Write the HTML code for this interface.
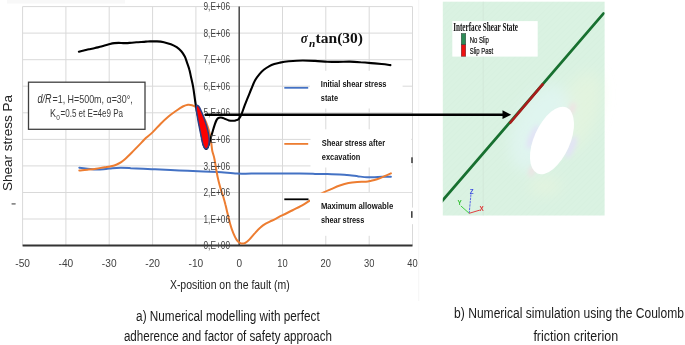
<!DOCTYPE html>
<html><head><meta charset="utf-8"><style>
html,body{margin:0;padding:0;background:#fff;width:685px;height:345px;overflow:hidden}
svg{display:block;filter:blur(0.35px)}
text{font-family:"Liberation Sans",sans-serif}
.yl{font-size:10.5px;fill:#404040}
.xl{font-size:11px;fill:#404040}
.lg{font-size:9px;font-weight:bold;fill:#141414}
.sg{font-family:"Liberation Serif",serif;font-size:14px;font-weight:bold;fill:#111}
.sg2{font-family:"Liberation Serif",serif;font-size:9.5px;font-weight:bold;fill:#111}
.dr{font-size:12.2px;fill:#333}
.dr2{font-size:10.2px;fill:#3a3a3a}
.dr3{font-size:6.5px;fill:#404040}
.yt{font-size:13px;fill:#222}
.xt{font-size:12px;fill:#222}
.cp{font-size:14px;fill:#1a1a1a}
.il{font-family:"Liberation Serif",serif;font-size:11.5px;font-weight:bold;fill:#111}
.il2{font-size:9.2px;fill:#111;stroke:#111;stroke-width:0.2px}
.tr{font-size:7.2px;font-weight:bold}
</style></head><body>
<svg width="685" height="345" viewBox="0 0 685 345">
<defs><clipPath id="pclip"><rect x="442.8" y="1.7" width="161.8" height="213.8"/></clipPath><pattern id="hatch" width="4" height="4" patternUnits="userSpaceOnUse" patternTransform="rotate(-45)"><line x1="0" y1="0" x2="4" y2="0" stroke="#c8e0cc" stroke-width="0.6" opacity="0.35"/></pattern><filter id="blur" x="-50%" y="-50%" width="200%" height="200%"><feGaussianBlur stdDeviation="2.5"/></filter><filter id="blur2" x="-50%" y="-50%" width="200%" height="200%"><feGaussianBlur stdDeviation="7"/></filter></defs>
<rect x="0" y="0" width="685" height="345" fill="#fff"/>
<rect x="7" y="0" width="118" height="3.5" fill="#f8f8f8"/>
<line x1="418.7" y1="0" x2="418.7" y2="301" stroke="#f3f3f3" stroke-width="0.8"/>
<line x1="22.6" y1="6.6" x2="22.6" y2="245.6" stroke="#d9d9d9" stroke-width="1"/>
<line x1="65.9" y1="6.6" x2="65.9" y2="245.6" stroke="#d9d9d9" stroke-width="1"/>
<line x1="109.2" y1="6.6" x2="109.2" y2="245.6" stroke="#d9d9d9" stroke-width="1"/>
<line x1="152.6" y1="6.6" x2="152.6" y2="245.6" stroke="#d9d9d9" stroke-width="1"/>
<line x1="195.9" y1="6.6" x2="195.9" y2="245.6" stroke="#d9d9d9" stroke-width="1"/>
<line x1="239.2" y1="6.6" x2="239.2" y2="245.6" stroke="#d9d9d9" stroke-width="1"/>
<line x1="282.5" y1="6.6" x2="282.5" y2="245.6" stroke="#d9d9d9" stroke-width="1"/>
<line x1="325.8" y1="6.6" x2="325.8" y2="245.6" stroke="#d9d9d9" stroke-width="1"/>
<line x1="369.2" y1="6.6" x2="369.2" y2="245.6" stroke="#d9d9d9" stroke-width="1"/>
<line x1="412.5" y1="6.6" x2="412.5" y2="245.6" stroke="#d9d9d9" stroke-width="1"/>
<line x1="22.6" y1="219.0" x2="412.5" y2="219.0" stroke="#d9d9d9" stroke-width="1"/>
<line x1="22.6" y1="192.5" x2="412.5" y2="192.5" stroke="#d9d9d9" stroke-width="1"/>
<line x1="22.6" y1="165.9" x2="412.5" y2="165.9" stroke="#d9d9d9" stroke-width="1"/>
<line x1="22.6" y1="139.4" x2="412.5" y2="139.4" stroke="#d9d9d9" stroke-width="1"/>
<line x1="22.6" y1="112.8" x2="412.5" y2="112.8" stroke="#d9d9d9" stroke-width="1"/>
<line x1="22.6" y1="86.2" x2="412.5" y2="86.2" stroke="#d9d9d9" stroke-width="1"/>
<line x1="22.6" y1="59.7" x2="412.5" y2="59.7" stroke="#d9d9d9" stroke-width="1"/>
<line x1="22.6" y1="33.1" x2="412.5" y2="33.1" stroke="#d9d9d9" stroke-width="1"/>
<line x1="22.6" y1="6.6" x2="412.5" y2="6.6" stroke="#d9d9d9" stroke-width="1"/>
<line x1="239.2" y1="6.6" x2="239.2" y2="245.6" stroke="#404040" stroke-width="1.4"/>
<line x1="22.6" y1="245.6" x2="412.5" y2="245.6" stroke="#333" stroke-width="2"/>
<text x="22.6" y="266.9" text-anchor="middle" class="xl" textLength="14.7" lengthAdjust="spacingAndGlyphs">-50</text>
<text x="65.9" y="266.9" text-anchor="middle" class="xl" textLength="14.7" lengthAdjust="spacingAndGlyphs">-40</text>
<text x="109.2" y="266.9" text-anchor="middle" class="xl" textLength="14.7" lengthAdjust="spacingAndGlyphs">-30</text>
<text x="152.6" y="266.9" text-anchor="middle" class="xl" textLength="14.7" lengthAdjust="spacingAndGlyphs">-20</text>
<text x="195.9" y="266.9" text-anchor="middle" class="xl" textLength="14.7" lengthAdjust="spacingAndGlyphs">-10</text>
<text x="239.2" y="266.9" text-anchor="middle" class="xl" textLength="5.6" lengthAdjust="spacingAndGlyphs">0</text>
<text x="282.5" y="266.9" text-anchor="middle" class="xl" textLength="10.4" lengthAdjust="spacingAndGlyphs">10</text>
<text x="325.8" y="266.9" text-anchor="middle" class="xl" textLength="10.4" lengthAdjust="spacingAndGlyphs">20</text>
<text x="369.2" y="266.9" text-anchor="middle" class="xl" textLength="10.4" lengthAdjust="spacingAndGlyphs">30</text>
<text x="412.5" y="266.9" text-anchor="middle" class="xl" textLength="10.4" lengthAdjust="spacingAndGlyphs">40</text>
<path d="M79.3,167.7 C80.7,167.9 84.4,168.4 87.4,168.7 C90.4,169.0 94.2,169.6 97.3,169.6 C100.4,169.6 103.5,169.1 106.0,168.9 C108.5,168.7 109.7,168.4 112.2,168.2 C114.7,168.0 117.8,167.8 120.9,167.8 C124.0,167.8 127.1,168.0 130.8,168.2 C134.5,168.3 139.2,168.5 143.2,168.7 C147.2,168.9 149.0,168.9 155.0,169.2 C161.0,169.5 171.1,170.0 179.1,170.4 C187.1,170.8 196.8,171.3 203.2,171.6 C209.6,171.9 212.1,171.7 217.7,172.0 C223.3,172.3 231.3,173.3 236.9,173.6 C242.5,173.9 245.0,173.6 251.4,173.6 C257.8,173.6 267.5,173.4 275.5,173.4 C283.5,173.4 293.0,173.5 299.6,173.6 C306.2,173.7 310.4,173.8 315.0,173.9 C319.6,174.0 323.3,174.0 327.4,174.1 C331.5,174.2 336.1,174.2 339.8,174.4 C343.5,174.6 346.6,174.9 349.7,175.2 C352.8,175.5 355.5,176.1 358.4,176.4 C361.3,176.7 364.4,177.1 367.1,177.2 C369.8,177.3 372.1,177.3 374.6,177.2 C377.1,177.1 379.3,176.9 382.0,176.8 C384.7,176.7 389.4,176.8 390.9,176.8" fill="none" stroke="#4472c4" stroke-width="2" stroke-linecap="round"/>
<path d="M79.3,170.5 C80.7,170.4 84.6,170.0 87.4,169.7 C90.2,169.4 93.2,169.1 96.1,168.7 C99.0,168.3 102.1,167.6 104.8,167.2 C107.5,166.8 110.1,166.5 112.2,166.0 C114.3,165.5 115.7,164.9 117.2,164.3 C118.7,163.7 120.0,163.0 121.2,162.2 C122.4,161.4 123.5,160.6 124.6,159.6 C125.7,158.6 126.5,157.8 128.0,156.3 C129.6,154.8 131.6,152.7 133.9,150.4 C136.2,148.1 139.7,144.5 141.7,142.4 C143.7,140.3 144.3,139.5 146.1,137.8 C147.9,136.1 150.1,134.8 152.5,132.4 C154.9,130.1 158.0,126.4 160.7,123.7 C163.4,121.0 165.9,118.7 168.5,116.5 C171.1,114.3 173.9,112.4 176.3,110.7 C178.7,109.0 180.9,107.5 182.8,106.5 C184.8,105.5 186.5,105.0 188.0,104.8 C189.5,104.6 190.8,104.9 192.0,105.2 C193.2,105.5 194.1,105.9 195.2,106.7 C196.3,107.5 197.4,108.4 198.5,109.8 C199.6,111.2 200.9,113.3 202.0,115.0 C203.1,116.7 204.1,118.2 205.0,120.0 C205.9,121.8 206.8,124.0 207.5,126.0 C208.2,128.0 208.8,130.1 209.3,132.0 C209.8,133.9 210.0,135.7 210.3,137.7 C210.7,139.7 211.1,141.8 211.4,144.0 C211.7,146.2 211.8,148.6 212.3,151.0 C212.8,153.4 213.7,155.2 214.4,158.7 C215.1,162.1 215.9,167.8 216.6,171.7 C217.3,175.6 218.0,178.8 218.8,181.9 C219.6,185.1 220.5,188.2 221.2,190.6 C221.9,193.0 222.5,194.2 223.2,196.5 C223.9,198.8 224.7,201.7 225.4,204.6 C226.2,207.5 226.9,210.9 227.7,214.1 C228.5,217.3 229.2,220.5 230.1,223.7 C231.0,226.9 232.2,230.5 233.3,233.2 C234.4,235.8 235.4,238.0 236.5,239.6 C237.6,241.2 238.8,242.1 239.7,242.8 C240.6,243.5 241.2,243.6 242.1,243.6 C243.0,243.6 244.1,243.5 245.3,242.8 C246.5,242.1 247.7,241.2 249.3,239.6 C251.0,237.9 253.3,234.9 255.2,232.9 C257.0,230.9 258.6,229.1 260.4,227.6 C262.1,226.1 263.7,224.9 265.7,223.7 C267.7,222.5 269.4,221.9 272.2,220.5 C275.0,219.1 279.1,216.9 282.6,215.2 C286.1,213.4 289.8,211.6 293.1,210.0 C296.4,208.4 299.5,206.9 302.2,205.4 C304.9,203.9 305.8,203.1 309.4,200.9 C313.0,198.8 320.1,194.4 323.7,192.5 C327.3,190.6 328.4,190.4 331.1,189.2 C333.8,188.0 336.9,186.5 339.8,185.5 C342.7,184.5 345.6,183.6 348.5,183.0 C351.4,182.4 354.3,182.2 357.2,182.0 C360.1,181.8 363.6,181.9 365.9,181.7 C368.2,181.5 368.9,181.3 370.8,180.9 C372.7,180.5 374.7,180.1 377.0,179.3 C379.3,178.5 382.2,177.2 384.5,176.2 C386.8,175.2 389.8,173.9 390.9,173.4" fill="none" stroke="#ed7d31" stroke-width="2" stroke-linecap="round"/>
<path d="M78.9,51.8 C79.7,51.6 82.1,51.0 83.8,50.6 C85.5,50.2 87.1,49.7 89.0,49.3 C90.9,48.9 93.0,48.5 95.1,48.0 C97.1,47.5 99.5,47.1 101.3,46.6 C103.0,46.1 104.1,45.7 105.6,45.3 C107.0,44.9 108.5,44.4 110.0,44.0 C111.5,43.6 112.9,43.3 114.4,43.1 C115.9,42.9 117.3,42.9 118.8,42.9 C120.3,42.9 121.8,43.1 123.2,43.1 C124.7,43.1 126.0,43.2 127.5,43.1 C128.9,43.0 130.4,42.8 131.9,42.7 C133.4,42.6 134.1,42.5 136.4,42.3 C138.7,42.1 143.6,41.8 145.9,41.6 C148.2,41.5 148.2,41.4 150.0,41.4 C151.8,41.4 154.7,41.3 157.0,41.4 C159.3,41.5 161.6,41.7 163.9,42.2 C166.2,42.7 168.8,43.5 170.9,44.3 C173.0,45.1 175.0,46.1 176.7,47.2 C178.4,48.4 180.0,49.7 181.3,51.2 C182.7,52.8 183.8,54.6 184.8,56.5 C185.8,58.4 186.3,60.6 187.1,62.8 C187.9,65.0 188.8,67.4 189.4,69.8 C190.1,72.2 190.4,74.3 191.0,77.0 C191.6,79.7 192.4,82.9 193.0,86.1 C193.6,89.3 194.1,93.2 194.5,96.2 C194.9,99.2 195.2,101.5 195.6,104.0 C196.0,106.5 196.3,108.5 196.8,111.0 C197.3,113.5 198.1,116.2 198.7,119.1 C199.3,122.0 199.9,125.6 200.5,128.6 C201.1,131.6 201.5,134.3 202.0,137.0 C202.5,139.7 202.9,142.6 203.5,144.5 C204.1,146.4 204.9,148.0 205.5,148.6 C206.1,149.2 206.7,148.9 207.2,148.3 C207.7,147.8 207.9,147.1 208.5,145.3 C209.1,143.5 210.1,140.2 210.8,137.7 C211.6,135.2 212.3,132.4 213.0,130.2 C213.7,127.9 214.3,126.0 214.9,124.2 C215.5,122.4 216.1,120.7 216.8,119.6 C217.5,118.5 218.2,118.1 219.1,117.8 C220.0,117.5 221.1,117.5 222.1,117.7 C223.1,117.9 224.0,118.5 225.1,118.9 C226.2,119.4 227.6,120.1 228.9,120.4 C230.2,120.7 231.6,120.8 232.7,120.8 C233.8,120.8 234.7,120.7 235.7,120.4 C236.7,120.1 237.8,119.8 238.7,118.9 C239.6,118.0 240.2,117.2 241.2,115.0 C242.2,112.8 243.5,108.5 244.7,105.4 C245.9,102.4 247.0,99.6 248.2,96.7 C249.4,93.8 250.5,90.8 251.7,88.0 C252.8,85.2 253.8,82.5 255.1,80.2 C256.4,77.9 258.1,75.8 259.5,74.1 C260.9,72.4 262.2,71.1 263.8,69.8 C265.4,68.5 267.2,67.3 269.0,66.3 C270.8,65.3 272.5,64.6 274.3,64.0 C276.1,63.4 277.6,63.1 280.0,62.6 C282.4,62.1 285.0,61.6 288.8,61.2 C292.6,60.9 298.4,60.5 302.8,60.5 C307.2,60.5 310.9,60.7 315.0,60.9 C319.1,61.1 323.5,61.5 327.3,61.7 C331.1,61.9 334.0,61.9 337.8,61.9 C341.6,61.9 346.2,61.5 350.0,61.6 C353.8,61.7 357.1,62.0 360.6,62.3 C364.1,62.5 367.6,62.8 371.1,63.1 C374.6,63.4 378.4,63.7 381.6,64.0 C384.8,64.3 388.9,64.9 390.4,65.1" fill="none" stroke="#000" stroke-width="2.1" stroke-linecap="round"/>
<text x="230" y="249.2" text-anchor="end" class="yl" textLength="26.5" lengthAdjust="spacingAndGlyphs">0,E+00</text>
<text x="230" y="222.6" text-anchor="end" class="yl" textLength="26.5" lengthAdjust="spacingAndGlyphs">1,E+06</text>
<text x="230" y="196.1" text-anchor="end" class="yl" textLength="26.5" lengthAdjust="spacingAndGlyphs">2,E+06</text>
<text x="230" y="169.5" text-anchor="end" class="yl" textLength="26.5" lengthAdjust="spacingAndGlyphs">3,E+06</text>
<text x="230" y="143.0" text-anchor="end" class="yl" textLength="26.5" lengthAdjust="spacingAndGlyphs">4,E+06</text>
<text x="230" y="116.4" text-anchor="end" class="yl" textLength="26.5" lengthAdjust="spacingAndGlyphs">5,E+06</text>
<text x="230" y="89.8" text-anchor="end" class="yl" textLength="26.5" lengthAdjust="spacingAndGlyphs">6,E+06</text>
<text x="230" y="63.3" text-anchor="end" class="yl" textLength="26.5" lengthAdjust="spacingAndGlyphs">7,E+06</text>
<text x="230" y="36.7" text-anchor="end" class="yl" textLength="26.5" lengthAdjust="spacingAndGlyphs">8,E+06</text>
<text x="230" y="10.2" text-anchor="end" class="yl" textLength="26.5" lengthAdjust="spacingAndGlyphs">9,E+06</text>
<path d="M196.5,105.2 C196.4,105.8 196.1,106.9 196.2,108.5 C196.3,110.1 196.7,112.7 197.1,115.0 C197.5,117.3 197.9,120.1 198.4,122.6 C198.9,125.1 199.4,127.7 199.9,130.2 C200.4,132.7 200.9,135.3 201.4,137.7 C201.9,140.1 202.4,143.0 203.0,144.8 C203.6,146.6 204.3,147.7 204.9,148.4 C205.5,149.1 205.9,149.0 206.4,148.8 C206.9,148.7 207.4,148.4 207.8,147.5 C208.2,146.6 208.7,144.9 208.9,143.5 C209.1,142.1 209.3,140.9 209.2,139.2 C209.1,137.5 208.8,135.3 208.4,133.2 C208.0,131.1 207.4,128.9 206.7,126.4 C206.0,123.9 205.1,121.0 204.2,118.4 C203.3,115.8 202.1,113.0 201.2,111.0 C200.3,109.0 199.5,107.3 198.7,106.3 C197.9,105.3 196.9,105.4 196.5,105.2" fill="#ff0000" stroke="#2c3f85" stroke-width="1.5"/>
<rect x="310" y="70.8" width="92.6" height="37.7" fill="#fff"/>
<rect x="310.5" y="129.3" width="100.8" height="38.2" fill="#fff"/>
<rect x="310" y="192.8" width="101.3" height="43" fill="#fff"/><rect x="411" y="207.6" width="3" height="16.6" fill="#fff"/>
<line x1="284.3" y1="87.8" x2="308.2" y2="87.8" stroke="#4472c4" stroke-width="1.8"/>
<line x1="284.3" y1="143.9" x2="308.2" y2="143.9" stroke="#ed7d31" stroke-width="1.8"/>
<line x1="284.3" y1="199.3" x2="308.5" y2="199.3" stroke="#000" stroke-width="1.8"/>
<text x="320.8" y="87.2" class="lg" textLength="65.7" lengthAdjust="spacingAndGlyphs">Initial shear stress</text>
<text x="320.8" y="100.8" class="lg" textLength="17.2" lengthAdjust="spacingAndGlyphs">state</text>
<text x="321.8" y="146.2" class="lg" textLength="63.3" lengthAdjust="spacingAndGlyphs">Shear stress after</text>
<text x="321.8" y="160.2" class="lg" textLength="38.5" lengthAdjust="spacingAndGlyphs">excavation</text>
<text x="320.9" y="209.4" class="lg" textLength="72.3" lengthAdjust="spacingAndGlyphs">Maximum allowable</text>
<text x="320.9" y="223.1" class="lg" textLength="43.4" lengthAdjust="spacingAndGlyphs">shear stress</text>
<rect x="411.2" y="157.3" width="1.6" height="5.8" fill="#444"/>
<rect x="411" y="211.2" width="1.6" height="6.6" fill="#444"/>
<rect x="11.4" y="203" width="4.4" height="1.7" rx="0.8" fill="#8a8a8a"/>
<text x="300.8" y="43.1" class="sg" textLength="7" lengthAdjust="spacingAndGlyphs" font-style="italic">&#963;</text>
<text x="309" y="46.6" class="sg2" textLength="6.3" lengthAdjust="spacingAndGlyphs" font-style="italic">n</text>
<text x="315.6" y="43.3" class="sg" textLength="47.4" lengthAdjust="spacingAndGlyphs">tan(30)</text>
<rect x="28.5" y="82.2" width="116.5" height="47.1" fill="#fff" stroke="#404040" stroke-width="1.3"/>
<text x="37.5" y="102.8" class="dr" font-style="italic" textLength="14" lengthAdjust="spacingAndGlyphs">d/R</text>
<text x="52.5" y="102.6" class="dr2" textLength="80.3" lengthAdjust="spacingAndGlyphs">=1, H=500m, &#945;=30&#176;,</text>
<text x="50" y="116.9" class="dr2" textLength="6" lengthAdjust="spacingAndGlyphs">K</text>
<text x="56.2" y="119.5" class="dr3">0</text>
<text x="60.5" y="116.9" class="dr2" textLength="62.6" lengthAdjust="spacingAndGlyphs">=0.5 et E=4e9 Pa</text>
<text transform="translate(11.9,143) rotate(-90)" text-anchor="middle" class="yt" textLength="96" lengthAdjust="spacingAndGlyphs">Shear stress Pa</text>
<text x="169.9" y="288.7" class="xt" textLength="119.9" lengthAdjust="spacingAndGlyphs">X-position on the fault (m)</text>
<text x="136.1" y="320.9" class="cp" textLength="183.6" lengthAdjust="spacingAndGlyphs">a) Numerical modelling with perfect</text>
<text x="123.9" y="340.6" class="cp" textLength="208.1" lengthAdjust="spacingAndGlyphs">adherence and factor of safety approach</text>
<text x="454.1" y="318.2" class="cp" textLength="229.9" lengthAdjust="spacingAndGlyphs">b) Numerical simulation using the Coulomb</text>
<text x="533.4" y="340.5" class="cp" textLength="84.7" lengthAdjust="spacingAndGlyphs">friction criterion</text>
<rect x="442.8" y="1.7" width="161.8" height="213.8" fill="#daf2e2"/>
<rect x="442.8" y="1.7" width="161.8" height="213.8" fill="url(#hatch)"/><line x1="483.2" y1="1.7" x2="483.2" y2="215.5" stroke="#cfe2d4" stroke-width="0.6"/>
<g filter="url(#blur2)">
<ellipse cx="578" cy="112" rx="20" ry="42" transform="rotate(20 578 112)" fill="#e8f5de" opacity="0.6"/>
<ellipse cx="540" cy="128" rx="26" ry="46" transform="rotate(24 540 128)" fill="#e0f5f1" opacity="0.9"/>
<ellipse cx="545" cy="186" rx="16" ry="9" fill="#eaf5de" opacity="0.6"/>
</g>
<g filter="url(#blur)">
<ellipse cx="533" cy="137" rx="4" ry="13" transform="rotate(24 533 137)" fill="#e2e3f6"/>
<ellipse cx="571" cy="147" rx="4" ry="12" transform="rotate(24 571 147)" fill="#e2e3f6"/>
<ellipse cx="572" cy="109" rx="2.5" ry="7" transform="rotate(20 572 109)" fill="#f2dfe3"/>
<ellipse cx="532" cy="171" rx="2.5" ry="6" transform="rotate(20 532 171)" fill="#f2dfe3"/>
</g>
<ellipse cx="552" cy="140.5" rx="18" ry="36" transform="rotate(24 552 140.5)" fill="#fff"/>
<rect x="452.3" y="21.1" width="85.4" height="35.5" fill="#fff"/>
<text x="453.2" y="30.9" class="il" textLength="64.8" lengthAdjust="spacingAndGlyphs">Interface Shear State</text>
<rect x="461.2" y="33.4" width="4.6" height="11.4" fill="#2e8b57" stroke="#333" stroke-width="0.4"/>
<rect x="461.2" y="44.8" width="4.6" height="11.6" fill="#ee1111" stroke="#333" stroke-width="0.4"/>
<text x="469.7" y="42.8" class="il2" textLength="19.2" lengthAdjust="spacingAndGlyphs">No Slip</text>
<text x="469.7" y="53.7" class="il2" textLength="23.5" lengthAdjust="spacingAndGlyphs">Slip Past</text>
<line x1="603.6" y1="13.4" x2="440" y2="203.5" stroke="#187030" stroke-width="2.7" stroke-linecap="round" clip-path="url(#pclip)"/>
<line x1="543.3" y1="83.6" x2="509.6" y2="123.5" stroke="#a81c1c" stroke-width="2.7"/>
<line x1="469.2" y1="213.3" x2="471" y2="193.8" stroke="#5a6ae8" stroke-width="1" stroke-dasharray="2.5,0.8"/>
<line x1="469.2" y1="213.3" x2="460.8" y2="205.9" stroke="#3fcf3f" stroke-width="1"/>
<line x1="469.2" y1="213.3" x2="479.8" y2="210.1" stroke="#e04040" stroke-width="1"/>
<text x="469.7" y="193.6" class="tr" fill="#3a4ae0" textLength="3.8" lengthAdjust="spacingAndGlyphs">Z</text>
<text x="457.6" y="205.2" class="tr" fill="#33c033" textLength="4.2" lengthAdjust="spacingAndGlyphs">Y</text>
<text x="479.5" y="210.6" class="tr" fill="#dd3030" textLength="4.2" lengthAdjust="spacingAndGlyphs">X</text>
<line x1="205" y1="114.7" x2="504" y2="114.7" stroke="#000" stroke-width="2.5"/><polygon points="502.5,110.3 511.2,114.7 502.5,119.1" fill="#000"/>
</svg>
</body></html>
